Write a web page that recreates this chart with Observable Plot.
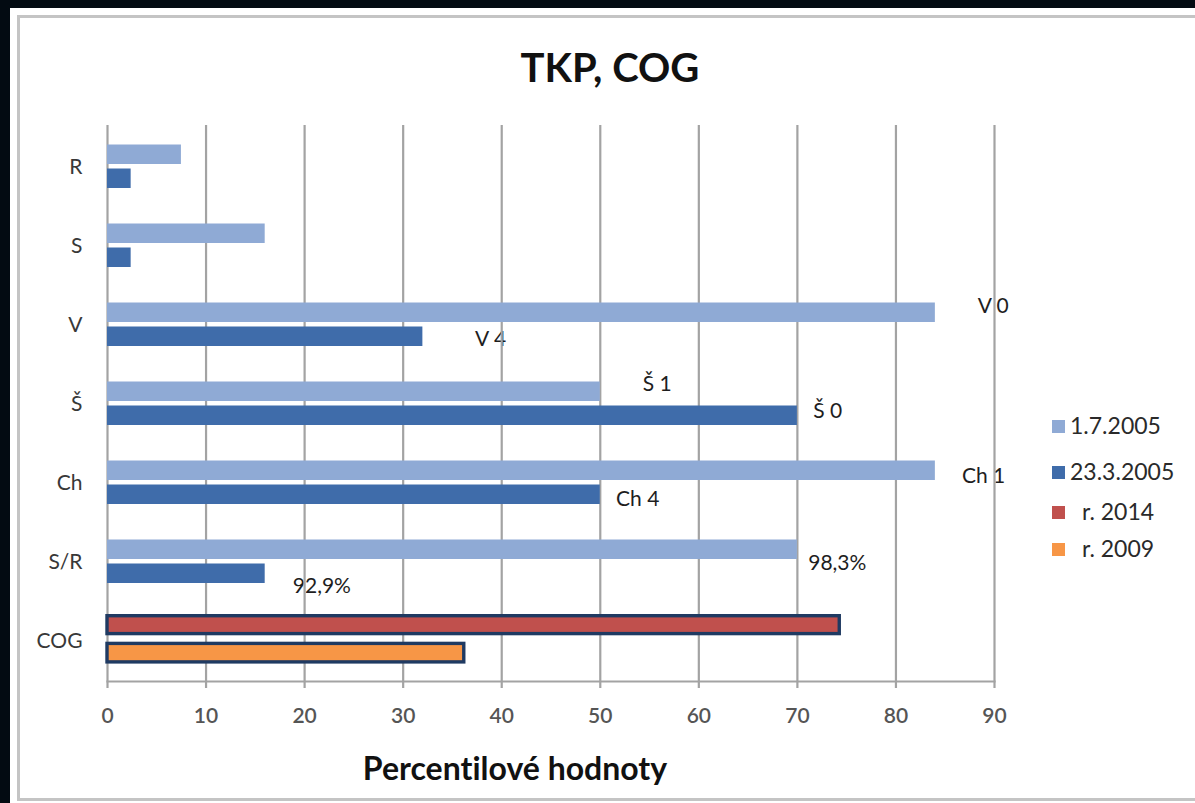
<!DOCTYPE html>
<html>
<head>
<meta charset="utf-8">
<script src="https://cdn.jsdelivr.net/npm/d3@7"></script>
<script src="https://cdn.jsdelivr.net/npm/@observablehq/plot@0.6"></script>
<style>
  html, body { margin: 0; padding: 0; }
  body { width: 1195px; height: 803px; background: #030b12; position: relative; overflow: hidden; font-family: Lato, "Open Sans", sans-serif; font-variant-ligatures: none; }
  #panel { position: absolute; left: 10px; top: 8px; width: 1200px; height: 800px; background: #ffffff; }
  #inner { position: absolute; left: 17px; top: 15px; width: 1200px; height: 786px; border: 3px solid #c4c4c4; box-sizing: border-box; }
  #chart { position: absolute; left: 0; top: 0; }
  #title { position: absolute; left: 0; width: 1220px; top: 43px; text-align: center; font-weight: 700; font-size: 40px; color: #111; line-height: 48px; }
  #xlabel { position: absolute; left: 0; width: 1030px; top: 748px; text-align: center; font-weight: 700; font-size: 32px; color: #111; line-height: 40px; }
  #legend { position: absolute; left: 1052px; top: 0; }
  .li { position: absolute; left: 0; white-space: nowrap; font-size: 23px; color: #2a2a2a; line-height: 26px; height: 26px; }
  .sw { display: inline-block; width: 13px; height: 13px; vertical-align: middle; margin-right: 5px; position: relative; top: -2px; }
</style>
</head>
<body>
<div id="panel"></div>
<div id="inner"></div>
<div id="title">TKP, COG</div>
<div id="chart"></div>
<div id="xlabel">Percentilové hodnoty</div>
<div id="legend"></div>
<script>
// ---- data ----
const categories = ["R", "S", "V", "Š", "Ch", "S/R", "COG"];
const seriesNames = ["1.7.2005", "23.3.2005", "r. 2014", "r. 2009"];
const seriesColors = ["#8faad5", "#3f6caa", "#c0504d", "#f79646"];
const cats2005 = ["R", "S", "V", "Š", "Ch", "S/R"];
const values_1_7_2005 = [7.5, 16, 84, 50, 84, 70];
const values_23_3_2005 = [2.4, 2.4, 32, 70, 50, 16];
const values_r2014 = [74.3];
const values_r2009 = [36.2];
const xTicks = [0, 10, 20, 30, 40, 50, 60, 70, 80, 90];
const annoText = ["V 0", "V 4", "Š 1", "Š 0", "Ch 1", "Ch 4", "98,3%", "92,9%"];
const annoCat = ["V", "V", "Š", "Š", "Ch", "Ch", "S/R", "S/R"];
const annoX = [88.3, 37.3, 54.3, 71.6, 86.7, 51.6, 71.1, 18.8];

// styles (offsets in px relative to category centre)
const annoDy = [-19, 14, -19.5, 7, -7, 16, 1, 24];

const rowsTop = cats2005.map((c, i) => ({cat: c, value: values_1_7_2005[i], series: seriesNames[0]}));
const rowsBot = cats2005.map((c, i) => ({cat: c, value: values_23_3_2005[i], series: seriesNames[1]}));
const cogTop = values_r2014.map(v => ({cat: "COG", value: v, series: seriesNames[2]}));
const cogBot = values_r2009.map(v => ({cat: "COG", value: v, series: seriesNames[3]}));
const annos = annoText.map((t, i) => ({text: t, cat: annoCat[i], x: annoX[i]}));

const gridColor = "#a3a3a3";
const font = "Lato, 'Open Sans', sans-serif";

const plot = Plot.plot({
  width: 1195,
  height: 803,
  marginLeft: 107,
  marginRight: 201,
  marginTop: 125,
  marginBottom: 122,
  style: {background: "transparent", fontFamily: font},
  x: {domain: [0, 90]},
  y: {type: "band", domain: categories, padding: 0},
  color: {domain: seriesNames, range: seriesColors},
  marks: [
    ...annos.map((a, i) => Plot.text([a], {
      x: "x", y: "cat", text: "text", textAnchor: "start", dy: annoDy[i],
      fontSize: 21, fill: "#1e1e1e"
    })),
    Plot.ruleX(xTicks, {stroke: gridColor, strokeWidth: 2.2}),
    Plot.frame({anchor: "bottom", stroke: gridColor, strokeWidth: 2.2}),
    Plot.axisX({ticks: xTicks, tickSize: 7, tickPadding: 20, fontSize: 21, fontWeight: 600, fill: "#555", stroke: gridColor, strokeWidth: 2.2, tickFormat: d => String(d), label: null}),
    Plot.axisY({tickSize: 0, tickPadding: 25, fontSize: 21, fill: "#383838", label: null}),
    Plot.barX(rowsTop, {x: "value", y: "cat", fill: "series", insetTop: 17.5, insetBottom: 42}),
    Plot.barX(rowsBot, {x: "value", y: "cat", fill: "series", insetTop: 41.5, insetBottom: 18}),
    Plot.barX(cogTop, {x: "value", y: "cat", fill: "series", stroke: "#1f3a62", strokeWidth: 3.4, insetTop: 14.7, insetBottom: 46.4}),
    Plot.barX(cogBot, {x: "value", y: "cat", fill: "series", stroke: "#1f3a62", strokeWidth: 3.4, insetTop: 42.4, insetBottom: 18.1})
  ]
});
document.getElementById("chart").appendChild(plot);

// legend
const legendY = [425, 471, 511, 548];
const legendIndent = [0, 0, 12, 12];
const leg = document.getElementById("legend");
seriesNames.forEach((name, i) => {
  const item = document.createElement("div");
  item.className = "li";
  item.style.top = (legendY[i] - 13) + "px";
  const sw = document.createElement("span");
  sw.className = "sw";
  sw.style.background = seriesColors[i];
  sw.style.marginRight = (5 + legendIndent[i]) + "px";
  item.appendChild(sw);
  item.appendChild(document.createTextNode(name));
  leg.appendChild(item);
});
</script>
</body>
</html>
